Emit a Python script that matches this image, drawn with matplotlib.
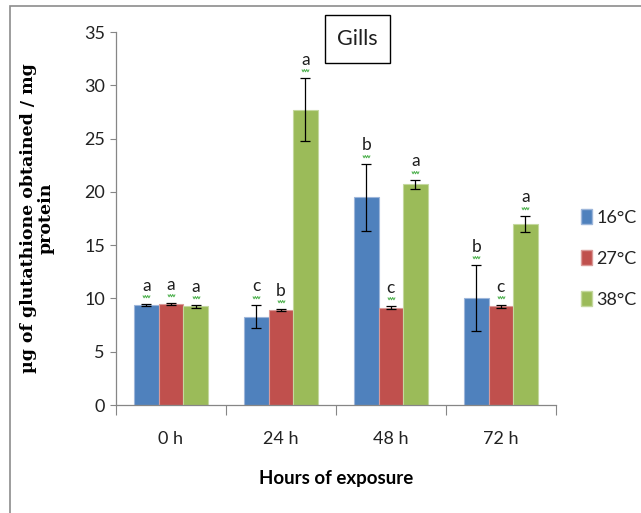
import matplotlib
matplotlib.use("Agg")
import matplotlib.pyplot as plt
import numpy as np
from matplotlib.patches import Rectangle, Patch
from matplotlib.path import Path
from matplotlib.transforms import offset_copy

sans = "Lato"

categories = ["0 h", "24 h", "48 h", "72 h"]
series = ["16°C", "27°C", "38°C"]
v16 = [9.35, 8.3, 19.5, 10.0]
v27 = [9.45, 8.9, 9.15, 9.25]
v38 = [9.25, 27.7, 20.7, 17.0]
e16 = [0.1, 1.1, 3.15, 3.1]
e27 = [0.1, 0.1, 0.1, 0.1]
e38 = [0.1, 2.95, 0.45, 0.75]
l16 = ["a", "c", "b", "b"]
l27 = ["a", "b", "c", "c"]
l38 = ["a", "a", "a", "a"]
colors = ["#4F81BD", "#C0504D", "#9BBB59"]
edges = ["#9DB6DA", "#DA9A98", "#C4D89E"]

fig = plt.figure(figsize=(6.41, 5.13), dpi=100)
ax = fig.add_axes([0.181, 0.2105, 0.686, 0.727])

# outer frame
fig.patches.append(Rectangle((10/641, -0.01), 1.0, 1 - 6/513 + 0.01, transform=fig.transFigure,
                             fill=False, edgecolor="#8C8C8C", linewidth=1.2))

# squiggle marker (open zigzag path)
zx = np.linspace(-0.4, 0.4, 7)
zy = np.where(np.arange(7) % 2 == 0, 1.0, 0.74)
squiggle = Path(np.column_stack([zx, zy]))

x = np.arange(len(categories))
w = 0.223
vals = [v16, v27, v38]
errs = [e16, e27, e38]
labs = [l16, l27, l38]
for i in range(3):
    pos = x + (i - 1) * w
    ax.bar(pos, vals[i], width=w, color=colors[i], edgecolor=edges[i], linewidth=0.8, zorder=2)
    ax.errorbar(pos, vals[i], yerr=errs[i], fmt="none", ecolor="black", elinewidth=0.9,
                capsize=3.5, capthick=0.9, zorder=3)
    tops = np.array(vals[i]) + np.array(errs[i])
    ax.plot(pos, tops, linestyle="none", marker=squiggle, markersize=13,
            markerfacecolor="none", markeredgecolor="#4CB04C", markeredgewidth=0.7, zorder=4)
    for p, top, lab in zip(pos, tops, labs[i]):
        ax.text(p, top, lab, transform=offset_copy(ax.transData, fig=fig, x=0, y=7.5, units="points"),
                ha="center", va="bottom", fontsize=12.5, color="#1F1F1F", family=sans)

ax.set_ylim(0, 35)
ax.set_xlim(-0.5, 3.5)
ax.set_yticks(np.arange(0, 36, 5))
ax.tick_params(axis="y", direction="out", length=4, width=0.8, color="#868686",
               labelsize=13, labelcolor="#222222", pad=4)
for t in ax.get_yticklabels():
    t.set_family(sans)
ax.set_xticks(np.arange(-0.5, 4, 1))
ax.set_xticklabels([])
ax.set_xticks(x, minor=True)
ax.set_xticklabels(categories, minor=True, fontsize=13, color="#222222", family=sans)
ax.tick_params(axis="x", which="major", direction="out", length=7, width=0.8, color="#868686")
ax.tick_params(axis="x", which="minor", length=0, pad=19)
for s in ["top", "right"]:
    ax.spines[s].set_visible(False)
for s in ["left", "bottom"]:
    ax.spines[s].set_color("#868686")
    ax.spines[s].set_linewidth(0.9)

ax.set_ylabel("µg of glutathione obtained / mg\nprotein", fontsize=12.5, fontweight="bold",
              family="DejaVu Serif", color="black", linespacing=1.0)
ax.yaxis.set_label_coords(-0.14, 0.5)
ax.set_xlabel("Hours of exposure", fontsize=13.5, fontweight="bold", family=sans, color="black")
ax.xaxis.set_label_coords(0.5, -0.175)

ax.add_patch(Rectangle((0.475, 0.917), 0.148, 0.129, transform=ax.transAxes, clip_on=False,
                       facecolor="white", edgecolor="black", linewidth=1, zorder=5))
ax.text(0.549, 0.981, "Gills", transform=ax.transAxes, fontsize=15.5, family=sans,
        ha="center", va="center", color="#1F1F1F", zorder=6)

handles = [Patch(facecolor=colors[i], edgecolor=edges[i], label=series[i]) for i in range(3)]
leg = fig.legend(handles=handles, loc="upper left", bbox_to_anchor=(0.895, 0.607), frameon=False,
                 handlelength=0.6, handleheight=0.9, handletextpad=0.25, labelspacing=1.35,
                 borderaxespad=0, prop={"family": sans, "size": 13})
for t in leg.get_texts():
    t.set_color("#222222")

fig.savefig("out.png", dpi=100)
